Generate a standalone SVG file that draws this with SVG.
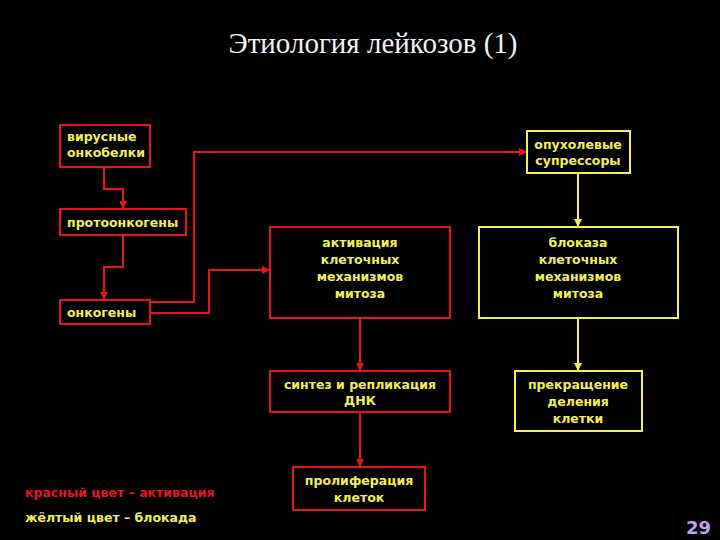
<svg xmlns="http://www.w3.org/2000/svg" width="720" height="540" viewBox="0 0 720 540">
<defs>
<style>
.r{fill:none;stroke:#e8141c;stroke-width:2}
.y{fill:none;stroke:#f4f050;stroke-width:2}
.t{font-family:"DejaVu Sans",sans-serif;font-size:12.5px;font-weight:bold;fill:#f4f050;text-anchor:middle}
.tl{text-anchor:start}
</style>
<marker id="ar" markerWidth="8" markerHeight="8" refX="7" refY="4" orient="auto" markerUnits="userSpaceOnUse"><path d="M0,0 L8,4 L0,8z" fill="#e8141c"/></marker>
<marker id="ay" markerWidth="8" markerHeight="8" refX="7" refY="4" orient="auto" markerUnits="userSpaceOnUse"><path d="M0,0 L8,4 L0,8z" fill="#f4f050"/></marker>
</defs>
<rect width="720" height="540" fill="#000"/>
<text x="373" y="53" font-family="Liberation Serif,serif" font-size="29" fill="#f2f2f2" text-anchor="middle">Этиология лейкозов (1)</text>
<g id="connectors">
<path class="r" d="M104,167 V189 H123 V208" marker-end="url(#ar)"/>
<path class="r" d="M123,235 V267 H104 V299" marker-end="url(#ar)"/>
<path class="r" d="M150,302 H194 V152 H526" marker-end="url(#ar)"/>
<path class="r" d="M150,313 H209 V270 H269" marker-end="url(#ar)"/>
<path class="y" d="M578,173 V226" marker-end="url(#ay)"/>
<path class="r" d="M360,318 V370" marker-end="url(#ar)"/>
<path class="r" d="M360,412 V466" marker-end="url(#ar)"/>
<path class="y" d="M578,318 V370" marker-end="url(#ay)"/>
</g>
<g id="n1"><rect class="r" x="60" y="125" width="90" height="42"/><text class="t tl" x="67" y="141">вирусные</text><text class="t tl" x="67" y="157">онкобелки</text></g>
<g id="n2"><rect class="r" x="60" y="209" width="126" height="26"/><text class="t tl" x="67" y="227">протоонкогены</text></g>
<g id="n3"><rect class="r" x="60" y="300" width="90" height="24"/><text class="t tl" x="67" y="317">онкогены</text></g>
<g id="n4"><rect class="y" x="527" y="131" width="103" height="42"/><text class="t" x="578" y="149">опухолевые</text><text class="t" x="578" y="165">супрессоры</text></g>
<g id="n5"><rect class="r" x="270" y="227" width="180" height="91"/><text class="t" x="360" y="247">активация</text><text class="t" x="360" y="264">клеточных</text><text class="t" x="360" y="281">механизмов</text><text class="t" x="360" y="298">митоза</text></g>
<g id="n6"><rect class="y" x="479" y="227" width="199" height="91"/><text class="t" x="578" y="247">блоказа</text><text class="t" x="578" y="264">клеточных</text><text class="t" x="578" y="281">механизмов</text><text class="t" x="578" y="298">митоза</text></g>
<g id="n7"><rect class="r" x="270" y="371" width="180" height="41"/><text class="t" x="360" y="389">синтез и репликация</text><text class="t" x="360" y="405">ДНК</text></g>
<g id="n8"><rect class="y" x="515" y="371" width="127" height="60"/><text class="t" x="578" y="389">прекращение</text><text class="t" x="578" y="406">деления</text><text class="t" x="578" y="423">клетки</text></g>
<g id="n9"><rect class="r" x="293" y="467" width="132" height="43"/><text class="t" x="359" y="485">пролиферация</text><text class="t" x="359" y="502">клеток</text></g>
<text class="t tl" x="25" y="497" style="fill:#e8141c">красный цвет – активация</text>
<text class="t tl" x="25" y="522">жёлтый цвет – блокада</text>
<text x="711" y="534" font-family="DejaVu Sans,sans-serif" font-size="18" font-weight="bold" fill="#c89cf0" text-anchor="end">29</text>
</svg>
